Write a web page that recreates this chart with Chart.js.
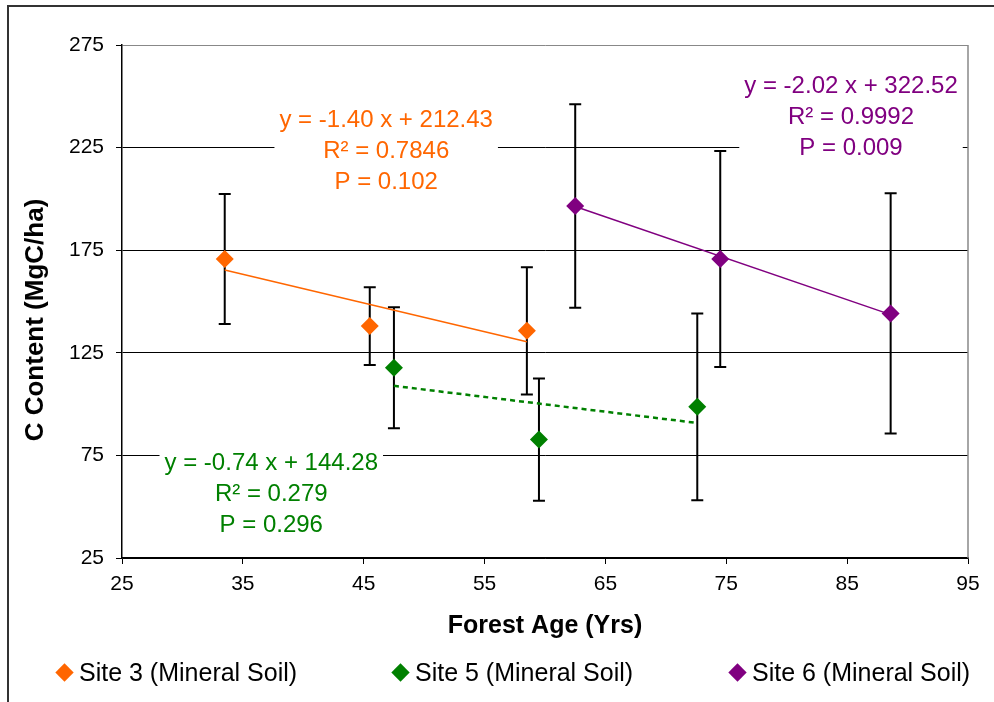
<!DOCTYPE html>
<html lang="en">
<head>
<meta charset="UTF-8">
<title>C Content vs Forest Age</title>
<script src="https://cdn.jsdelivr.net/npm/chart.js@4.4.0/dist/chart.umd.min.js"></script>
<style>
  body { margin: 0; background: #fff; overflow: hidden; font-family: 'Liberation Sans', Arial, sans-serif; }
  #wrap { position: relative; width: 994px; height: 702px; }
  #frame { position: absolute; left: 7px; top: 5px; width: 1000px; height: 720px; border-left: 2px solid #333; border-top: 2px solid #333; }
  canvas { position: absolute; left: 0; top: 0; }
  .item { position: absolute; top: 658px; height: 28px; font-size: 25px; line-height: 28px; color: #000; white-space: nowrap; }
  .item .mark { position: absolute; left: -6.5px; top: 7.5px; width: 13px; height: 13px; transform: rotate(45deg); }
  .item .txt { position: absolute; left: 15px; top: 0; }
</style>
</head>
<body>
<div id="wrap">
  <div id="frame"></div>
  <canvas id="chart" width="994" height="702"></canvas>
  <div class="item" style="left:64px"><span class="mark" style="background:#FF6600"></span><span class="txt">Site 3 (Mineral Soil)</span></div>
  <div class="item" style="left:400px"><span class="mark" style="background:#008000"></span><span class="txt">Site 5 (Mineral Soil)</span></div>
  <div class="item" style="left:737px"><span class="mark" style="background:#800080"></span><span class="txt">Site 6 (Mineral Soil)</span></div>
</div>
<script>
// values
const xTicks = [25, 35, 45, 55, 65, 75, 85, 95];
const yTicks = [25, 75, 125, 175, 225, 275];

const site3Age = [33.5, 45.5, 58.5];
const site3C   = [170.7, 138.0, 135.7];
const site3Err = [31.7, 18.9, 31.0];

const site5Age = [47.5, 59.5, 72.6];
const site5C   = [117.7, 82.7, 98.7];
const site5Err = [29.5, 29.8, 45.5];

const site6Age = [62.5, 74.5, 88.6];
const site6C   = [196.5, 170.7, 144.2];
const site6Err = [49.6, 52.6, 58.5];

// trend line end points
const trend3Age = [33.5, 58.5];
const trend3C   = [165.4, 130.4];
const trend5Age = [47.5, 72.6];
const trend5C   = [108.9, 90.8];
const trend6Age = [62.5, 88.6];
const trend6C   = [196.3, 143.6];

const note3 = ['y = -1.40 x + 212.43', 'R\u00B2 = 0.7846', 'P = 0.102'];
const note5 = ['y = -0.74 x + 144.28', 'R\u00B2 = 0.279', 'P = 0.296'];
const note6 = ['y = -2.02 x + 322.52', 'R\u00B2 = 0.9992', 'P = 0.009'];

const yTitle = 'C Content (MgC/ha)';

const ORANGE = '#FF6600', GREEN = '#008000', PURPLE = '#800080';
const FONT = "'Liberation Sans', Arial, sans-serif";

function pts(xs, ys) {
    return xs.map((v, i) => ({x: v, y: ys[i]}));
}

// where the equation blocks sit (data coords of first line centre)
const notes = [
    {lines: note3, color: ORANGE, at: [46.86, 238.4]},
    {lines: note5, color: GREEN,  at: [37.35, 70.9]},
    {lines: note6, color: PURPLE, at: [85.32, 255.0]}
];

const errorBars = {
    id: 'errorBars',
    beforeDatasetsDraw(chart) {
        const {ctx, scales: {x, y}, chartArea: a} = chart;
        ctx.save();
        // grey right edge of plot area
        ctx.strokeStyle = '#888';
        ctx.lineWidth = 1.5;
        ctx.beginPath();
        ctx.moveTo(a.right, a.top);
        ctx.lineTo(a.right, a.bottom);
        ctx.stroke();

        // equation blocks with white backing
        ctx.font = '24px ' + FONT;
        ctx.textAlign = 'center';
        ctx.textBaseline = 'middle';
        const lh = 31;
        notes.forEach(n => {
            const cx = x.getPixelForValue(n.at[0]);
            const cy = y.getPixelForValue(n.at[1]);
            const w = Math.max(...n.lines.map(t => ctx.measureText(t).width)) + 10;
            ctx.fillStyle = '#fff';
            ctx.fillRect(cx - w / 2, cy - 16, w, lh * 2 + 32);
            ctx.fillStyle = n.color;
            n.lines.forEach((t, i) => ctx.fillText(t, cx, cy + i * lh));
        });

        // error bars
        ctx.strokeStyle = '#000';
        ctx.lineWidth = 2;
        chart.data.datasets.forEach(ds => {
            if (!ds.errors) return;
            ds.data.forEach((p, j) => {
                const px = x.getPixelForValue(p.x);
                const top = y.getPixelForValue(p.y + ds.errors[j]);
                const bot = y.getPixelForValue(p.y - ds.errors[j]);
                ctx.beginPath();
                ctx.moveTo(px, top); ctx.lineTo(px, bot);
                ctx.moveTo(px - 6, top); ctx.lineTo(px + 6, top);
                ctx.moveTo(px - 6, bot); ctx.lineTo(px + 6, bot);
                ctx.stroke();
            });
        });
        ctx.restore();
    },
    afterDraw(chart) {
        // y axis title sits a little below the plot centre in the original
        const ctx = chart.ctx;
        ctx.save();
        ctx.translate(36, 320);
        ctx.rotate(-Math.PI / 2);
        ctx.font = 'bold 26px ' + FONT;
        ctx.fillStyle = '#000';
        ctx.textAlign = 'center';
        ctx.textBaseline = 'middle';
        ctx.fillText(yTitle, 0, 0);
        ctx.restore();
    }
};

function siteSet(label, xs, ys, errs, color) {
    return {
        label: label,
        data: pts(xs, ys),
        errors: errs,
        backgroundColor: color,
        borderColor: color,
        pointStyle: 'rectRot',
        pointRadius: 9,
        pointBorderWidth: 0,
        order: 0
    };
}

function trendSet(xs, ys, color, dash) {
    return {
        label: 'trend',
        data: pts(xs, ys),
        showLine: true,
        borderColor: color,
        borderWidth: dash ? 2.5 : 1.5,
        borderDash: dash || [],
        pointRadius: 0,
        fill: false,
        order: 1
    };
}

new Chart(document.getElementById('chart'), {
    type: 'scatter',
    data: {
        datasets: [
            siteSet('Site 3 (Mineral Soil)', site3Age, site3C, site3Err, ORANGE),
            siteSet('Site 5 (Mineral Soil)', site5Age, site5C, site5Err, GREEN),
            siteSet('Site 6 (Mineral Soil)', site6Age, site6C, site6Err, PURPLE),
            trendSet(trend3Age, trend3C, ORANGE),
            trendSet(trend5Age, trend5C, GREEN, [5, 4]),
            trendSet(trend6Age, trend6C, PURPLE)
        ]
    },
    options: {
        responsive: false,
        animation: false,
        layout: {padding: {left: 10, right: 26, top: 45, bottom: 61}},
        plugins: {
            legend: {display: false},
            tooltip: {enabled: false}
        },
        scales: {
            x: {
                type: 'linear',
                min: 25,
                max: 95,
                afterBuildTicks: s => { s.ticks = xTicks.map(v => ({value: v})); },
                afterFit: s => { s.height = 83; },
                grid: {display: true, drawOnChartArea: false, drawTicks: true, tickLength: 6, tickColor: '#000'},
                border: {color: '#000', width: 1.5},
                ticks: {color: '#000', padding: 8, font: {size: 21, family: FONT}},
                title: {
                    display: true,
                    text: 'Forest Age (Yrs)',
                    color: '#000',
                    padding: {top: 0, bottom: 0},
                    font: {size: 25, weight: 'bold', family: FONT}
                }
            },
            y: {
                type: 'linear',
                min: 25,
                max: 275,
                afterBuildTicks: s => { s.ticks = yTicks.map(v => ({value: v})); },
                afterFit: s => { s.width = 112; },
                grid: {
                    color: c => (c.tick && c.tick.value === 275 ? '#888' : '#000'),
                    lineWidth: 1,
                    tickLength: 6,
                    tickColor: '#000'
                },
                border: {color: '#000', width: 1.5},
                ticks: {color: '#000', padding: 12, font: {size: 21, family: FONT}},
                title: {display: false}
            }
        }
    },
    plugins: [errorBars]
});
</script>
</body>
</html>
